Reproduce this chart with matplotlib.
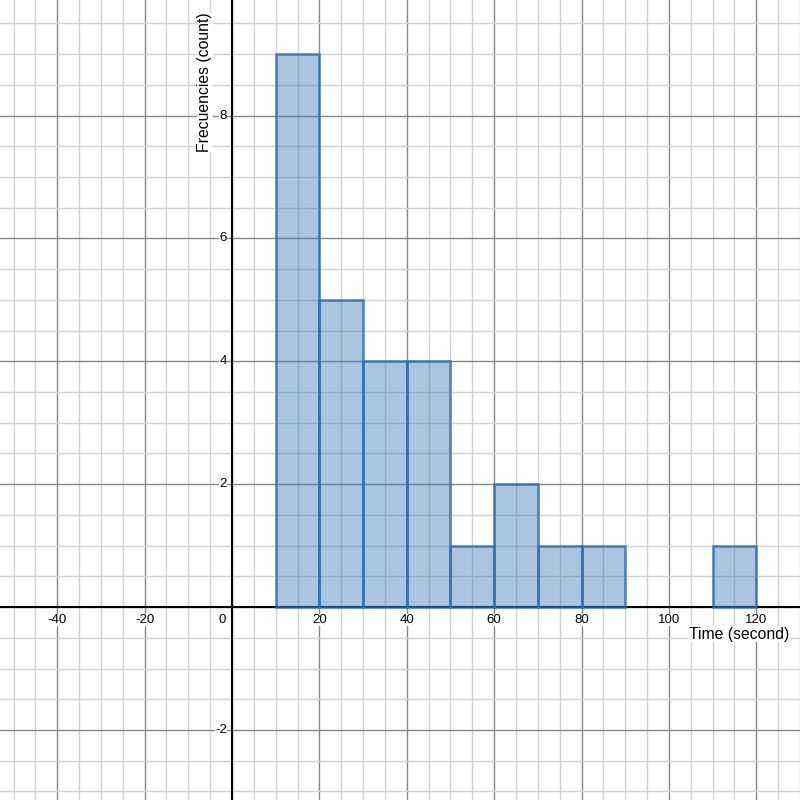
import matplotlib
matplotlib.use("Agg")
import matplotlib.pyplot as plt
import numpy as np

# histogram bins (seconds) and counts
bin_left = [10, 20, 30, 40, 50, 60, 70, 80, 90, 100, 110]
counts = [9, 5, 4, 4, 1, 2, 1, 1, 0, 0, 1]
bin_width = 10

x_ticks = [-40, -20, 20, 40, 60, 80, 100, 120]
y_ticks = [-2, 2, 4, 6, 8]

plt.rcParams['font.family'] = ['Liberation Sans', 'DejaVu Sans']

fig = plt.figure(figsize=(8, 8), dpi=100)
ax = fig.add_axes([0, 0, 1, 1])

# grid: minor every 5 / 0.5, major every 20 / 2
ax.set_xticks(np.arange(-60, 141, 20))
ax.set_xticks(np.arange(-60, 141, 5), minor=True)
ax.set_yticks(np.arange(-4, 11, 2))
ax.set_yticks(np.arange(-4, 11, 0.5), minor=True)
ax.grid(which='minor', color='#d2d2d2', lw=1.0, zorder=0)
ax.grid(which='major', color='#888888', lw=1.0, zorder=0)
ax.tick_params(which='both', length=0, labelbottom=False, labelleft=False)
for s in ax.spines.values():
    s.set_visible(False)
ax.set_axisbelow(True)

ax.axhline(0, color='black', lw=1.5, zorder=3)
ax.axvline(0, color='black', lw=1.5, zorder=3)

for left, c in zip(bin_left, counts):
    if c == 0:
        continue
    ax.bar(left, c, width=bin_width, align='edge', color='#2d70b3', alpha=0.4,
           zorder=2, lw=0)
    ax.bar(left, c, width=bin_width, align='edge', fill=False,
           edgecolor='#2d70b3', alpha=0.8, lw=1.9, zorder=4)

ax.set_xlim(-53.1, 130.0)
ax.set_ylim(-3.14, 9.88)

box = dict(facecolor='white', edgecolor='none', pad=0.3)
for t in x_ticks:
    ax.annotate(str(t), (t, 0), xytext=(0, -13), textcoords='offset pixels',
                ha='center', va='center', fontsize=9.5, bbox=box, zorder=5)
for t in y_ticks:
    ax.annotate(str(t), (0, t), xytext=(-5, 0), textcoords='offset pixels',
                ha='right', va='center', fontsize=9.5, bbox=box, zorder=5)
ax.annotate('0', (0, 0), xytext=(-10, -13), textcoords='offset pixels',
            ha='center', va='center', fontsize=9.5, zorder=5)

ax.text(127.6, -0.44, 'Time (second)', ha='right', va='center', fontsize=11.3,
        bbox=box, zorder=5)
ax.text(-6.2, 9.68, 'Frecuencies (count)', rotation=90, ha='center', va='top',
        fontsize=11.3, bbox=box, zorder=5)

fig.savefig('out.png', dpi=100)
